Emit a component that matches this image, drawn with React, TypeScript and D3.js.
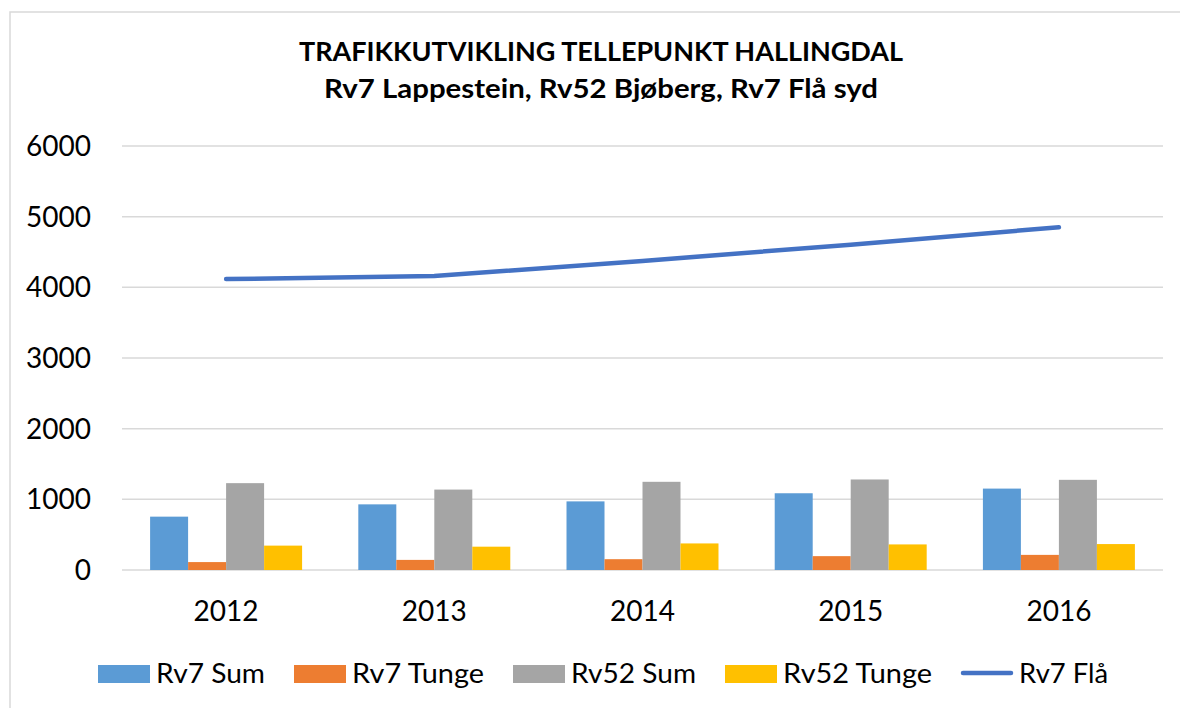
import React from 'react';
import * as d3 from 'd3';

const years = ['2012', '2013', '2014', '2015', '2016'];
const rv7Sum = [755, 929, 971, 1086, 1152];
const rv7Tunge = [112, 143, 153, 196, 214];
const rv52Sum = [1229, 1138, 1248, 1281, 1276];
const rv52Tunge = [345, 330, 376, 362, 367];
const rv7Fla = [4117, 4159, 4374, 4603, 4850];
const yTicks = [0, 1000, 2000, 3000, 4000, 5000, 6000];

const barSeries = [
  { name: 'Rv7 Sum', values: rv7Sum, color: '#5B9BD5' },
  { name: 'Rv7 Tunge', values: rv7Tunge, color: '#ED7D31' },
  { name: 'Rv52 Sum', values: rv52Sum, color: '#A5A5A5' },
  { name: 'Rv52 Tunge', values: rv52Tunge, color: '#FFC000' },
];
const lineName = 'Rv7 Flå';
const lineColor = '#4472C4';

const titleLines = ['TRAFIKKUTVIKLING TELLEPUNKT HALLINGDAL', 'Rv7 Lappestein, Rv52 Bjøberg, Rv7 Flå syd'];

const W = 1180;
const H = 708;
const FONT = 'Lato, "Open Sans", sans-serif';

const App: React.FC = () => {
  const plot = { left: 122, right: 1163, top: 146, bottom: 570 };

  const x = d3.scaleBand<string>()
    .domain(years)
    .range([plot.left, plot.right])
    .paddingInner(0.27)
    .paddingOuter(0.135);

  const xSeries = d3.scaleBand<string>()
    .domain(barSeries.map(s => s.name))
    .range([0, x.bandwidth()])
    .padding(0);

  const y = d3.scaleLinear().domain([0, 6000]).range([plot.bottom, plot.top]);

  const line = d3.line<number>()
    .x((_, i) => (x(years[i]) as number) + x.bandwidth() / 2)
    .y(d => y(d));

  // legend layout (label widths taken from the original)
  const legendItems = [
    ...barSeries.map(s => ({ name: s.name, color: s.color, kind: 'bar' })),
    { name: lineName, color: lineColor, kind: 'line' },
  ];
  const legendTextW = [109, 132, 125, 149, 89];
  const swatchW = 52;
  const legendGap = 29;
  let lx = 98;
  const legendPos = legendItems.map((it, i) => {
    const p = { ...it, x: lx, tw: legendTextW[i] };
    lx += swatchW + 6 + legendTextW[i] + legendGap;
    return p;
  });

  return (
    <svg width={W} height={H} style={{ position: 'absolute', left: 0, top: 0, background: '#fff' }} fontFamily={FONT}>
      <rect x={10} y={12} width={W + 20} height={H + 20} fill="#fff" stroke="#D9D9D9" strokeWidth={1.5} />

      {/* title */}
      <text x={601} y={61} textAnchor="middle" fontSize={26} fontWeight={700} fill="#000"
        textLength={604} lengthAdjust="spacingAndGlyphs">{titleLines[0]}</text>
      <text x={601} y={98} textAnchor="middle" fontSize={26} fontWeight={700} fill="#000"
        textLength={554} lengthAdjust="spacingAndGlyphs">{titleLines[1]}</text>

      {/* gridlines + y labels */}
      {yTicks.map(t => (
        <g key={t}>
          <line x1={plot.left} x2={plot.right} y1={y(t)} y2={y(t)} stroke="#D9D9D9" strokeWidth={1.5} />
          <text x={91} y={y(t) + 10} textAnchor="end" fontSize={28} fill="#000">{t}</text>
        </g>
      ))}

      {/* bars */}
      {barSeries.map(s => (
        <g key={s.name}>
          {s.values.map((v, i) => (
            <rect key={i}
              x={(x(years[i]) as number) + (xSeries(s.name) as number)}
              y={y(v)}
              width={xSeries.bandwidth()}
              height={y(0) - y(v)}
              fill={s.color} />
          ))}
        </g>
      ))}

      {/* line */}
      <path d={line(rv7Fla) || ''} fill="none" stroke={lineColor} strokeWidth={4.5}
        strokeLinecap="round" strokeLinejoin="round" />

      {/* x labels */}
      {years.map(yr => (
        <text key={yr} x={(x(yr) as number) + x.bandwidth() / 2} y={621} textAnchor="middle" fontSize={28} fill="#000">{yr}</text>
      ))}

      {/* legend */}
      {legendPos.map(it => (
        <g key={it.name}>
          {it.kind === 'bar'
            ? <rect x={it.x} y={665} width={swatchW} height={18} fill={it.color} />
            : <line x1={it.x + 2} x2={it.x + swatchW - 2} y1={673} y2={673} stroke={it.color} strokeWidth={4.5} strokeLinecap="round" />}
          <text x={it.x + swatchW + 6} y={683} fontSize={26} fill="#000"
            textLength={it.tw} lengthAdjust="spacingAndGlyphs">{it.name}</text>
        </g>
      ))}
    </svg>
  );
};

export default App;
